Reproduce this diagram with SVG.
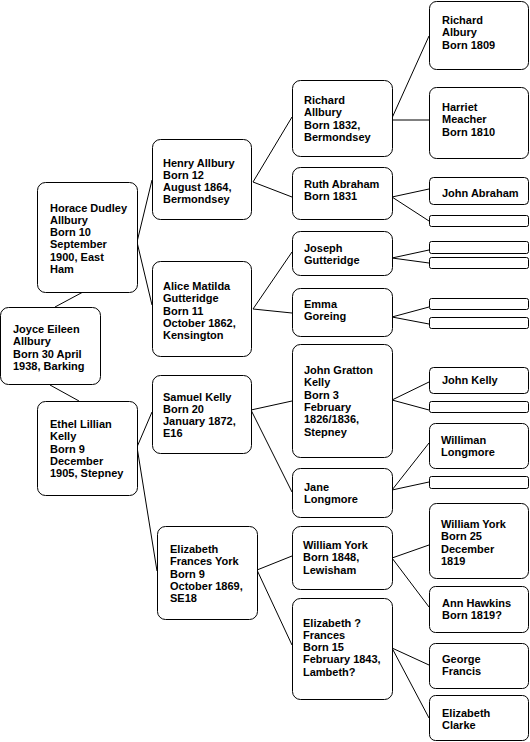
<svg xmlns="http://www.w3.org/2000/svg" width="530" height="742" viewBox="0 0 530 742">
<style>
rect{fill:#fff;stroke:#000;stroke-width:1}
text{font-family:"Liberation Sans",Arial,sans-serif;font-weight:bold;font-size:11px;fill:#000}
#connectors line{stroke:#000;stroke-width:1}
</style>
<rect x="0" y="0" width="530" height="742" style="stroke:none"/>
<g id="connectors">
<line x1="55" y1="307" x2="83" y2="292"/>
<line x1="50" y1="385" x2="79" y2="401"/>
<line x1="137" y1="242" x2="152" y2="180"/>
<line x1="137" y1="242" x2="152" y2="305"/>
<line x1="137" y1="447" x2="152" y2="412"/>
<line x1="137" y1="447" x2="157" y2="571"/>
<line x1="253" y1="182" x2="292" y2="117"/>
<line x1="253" y1="182" x2="292" y2="197"/>
<line x1="253" y1="309" x2="292" y2="252"/>
<line x1="253" y1="309" x2="292" y2="313"/>
<line x1="251" y1="410" x2="292" y2="401"/>
<line x1="251" y1="410" x2="292" y2="492"/>
<line x1="257" y1="570" x2="292" y2="556"/>
<line x1="257" y1="570" x2="292" y2="645"/>
<line x1="392" y1="118" x2="429" y2="36"/>
<line x1="392" y1="120" x2="429" y2="120"/>
<line x1="392" y1="197" x2="429" y2="189"/>
<line x1="392" y1="197" x2="429" y2="221"/>
<line x1="392" y1="258" x2="429" y2="250"/>
<line x1="392" y1="258" x2="429" y2="263"/>
<line x1="392" y1="317" x2="429" y2="307"/>
<line x1="392" y1="317" x2="429" y2="324"/>
<line x1="392" y1="400" x2="429" y2="382"/>
<line x1="392" y1="400" x2="429" y2="410"/>
<line x1="392" y1="490" x2="429" y2="443"/>
<line x1="392" y1="490" x2="429" y2="482"/>
<line x1="392" y1="558" x2="429" y2="545"/>
<line x1="392" y1="558" x2="429" y2="607"/>
<line x1="392" y1="648" x2="429" y2="665"/>
<line x1="392" y1="648" x2="429" y2="718"/>
</g>
<g id="joyce"><rect x="0.5" y="307.5" width="100" height="77" rx="8"/>
<text x="13" y="333">Joyce Eileen</text><text x="13" y="345.3">Allbury</text><text x="13" y="357.6">Born 30 April</text><text x="13" y="370">1938, Barking</text></g>
<g id="horace"><rect x="37.5" y="182.5" width="100" height="110" rx="8"/>
<text x="50" y="211.5">Horace Dudley</text><text x="50" y="223.8">Allbury</text><text x="50" y="236.1">Born 10</text><text x="50" y="248.4">September</text><text x="50" y="260.7">1900, East</text><text x="50" y="273">Ham</text></g>
<g id="ethel"><rect x="37.5" y="401.5" width="100" height="94" rx="8"/>
<text x="50" y="428">Ethel Lillian</text><text x="50" y="440.3">Kelly</text><text x="50" y="452.6">Born 9</text><text x="50" y="464.9">December</text><text x="50" y="477.2">1905, Stepney</text></g>
<g id="henry"><rect x="152.5" y="139.5" width="99" height="80" rx="8"/>
<text x="163" y="166.5">Henry Allbury</text><text x="163" y="178.8">Born 12</text><text x="163" y="191.1">August 1864,</text><text x="163" y="203.4">Bermondsey</text></g>
<g id="alice"><rect x="152.5" y="261.5" width="99" height="95" rx="8"/>
<text x="163" y="290">Alice Matilda</text><text x="163" y="302.3">Gutteridge</text><text x="163" y="314.6">Born 11</text><text x="163" y="326.9">October 1862,</text><text x="163" y="339.2">Kensington</text></g>
<g id="samuel"><rect x="152.5" y="375.5" width="99" height="78" rx="8"/>
<text x="163" y="400.5">Samuel Kelly</text><text x="163" y="412.8">Born 20</text><text x="163" y="425.1">January 1872,</text><text x="163" y="437.4">E16</text></g>
<g id="efy"><rect x="157.5" y="526.5" width="100" height="93" rx="8"/>
<text x="170" y="553">Elizabeth</text><text x="170" y="565.3">Frances York</text><text x="170" y="577.6">Born 9</text><text x="170" y="589.9">October 1869,</text><text x="170" y="602.2">SE18</text></g>
<g id="richard1832"><rect x="292.5" y="80.5" width="100" height="76" rx="8"/>
<text x="304" y="104">Richard</text><text x="304" y="116.3">Allbury</text><text x="304" y="128.6">Born 1832,</text><text x="304" y="140.9">Bermondsey</text></g>
<g id="ruth"><rect x="292.5" y="167.5" width="100" height="52" rx="8"/>
<text x="304" y="188">Ruth Abraham</text><text x="304" y="200.3">Born 1831</text></g>
<g id="joseph"><rect x="292.5" y="231.5" width="100" height="44" rx="8"/>
<text x="304" y="251.5">Joseph</text><text x="304" y="263.8">Gutteridge</text></g>
<g id="emma"><rect x="292.5" y="288.5" width="100" height="48" rx="8"/>
<text x="304" y="308">Emma</text><text x="304" y="320.3">Goreing</text></g>
<g id="jgk"><rect x="292.5" y="344.5" width="100" height="113" rx="8"/>
<text x="304" y="374">John Gratton</text><text x="304" y="386.3">Kelly</text><text x="304" y="398.6">Born 3</text><text x="304" y="410.9">February</text><text x="304" y="423.2">1826/1836,</text><text x="304" y="435.5">Stepney</text></g>
<g id="jane"><rect x="292.5" y="468.5" width="100" height="49" rx="8"/>
<text x="304" y="490.5">Jane</text><text x="304" y="502.8">Longmore</text></g>
<g id="wy1848"><rect x="292.5" y="526.5" width="100" height="63" rx="8"/>
<text x="303" y="549">William York</text><text x="303" y="561.3">Born 1848,</text><text x="303" y="573.6">Lewisham</text></g>
<g id="elizq"><rect x="292.5" y="598.5" width="100" height="101" rx="8"/>
<text x="303" y="626.5">Elizabeth ?</text><text x="303" y="638.8">Frances</text><text x="303" y="651.1">Born 15</text><text x="303" y="663.4">February 1843,</text><text x="303" y="675.7">Lambeth?</text></g>
<g id="richard1809"><rect x="429.5" y="1.5" width="99" height="68" rx="7"/>
<text x="442" y="24">Richard</text><text x="442" y="36.3">Albury</text><text x="442" y="48.6">Born 1809</text></g>
<g id="harriet"><rect x="429.5" y="87.5" width="99" height="71" rx="7"/>
<text x="442" y="111">Harriet</text><text x="442" y="123.3">Meacher</text><text x="442" y="135.6">Born 1810</text></g>
<g id="johnabraham"><rect x="429.5" y="177.5" width="99" height="27" rx="4"/>
<text x="442" y="196.5">John Abraham</text></g>
<g id="empty1"><rect x="429.5" y="215.5" width="99" height="11" rx="2"/></g>
<g id="empty2"><rect x="429.5" y="241.5" width="99" height="12" rx="2"/></g>
<g id="empty3"><rect x="429.5" y="257.5" width="99" height="11" rx="2"/></g>
<g id="empty4"><rect x="429.5" y="298.5" width="99" height="11" rx="2"/></g>
<g id="empty5"><rect x="429.5" y="317.5" width="99" height="11" rx="2"/></g>
<g id="johnkelly"><rect x="429.5" y="367.5" width="99" height="26" rx="4"/>
<text x="442" y="384">John Kelly</text></g>
<g id="empty6"><rect x="429.5" y="401.5" width="99" height="11" rx="2"/></g>
<g id="williman"><rect x="429.5" y="423.5" width="99" height="45" rx="6"/>
<text x="441" y="444">Williman</text><text x="441" y="456.3">Longmore</text></g>
<g id="empty7"><rect x="429.5" y="476.5" width="99" height="12" rx="2"/></g>
<g id="wy1819"><rect x="429.5" y="503.5" width="99" height="75" rx="7"/>
<text x="441" y="528">William York</text><text x="441" y="540.3">Born 25</text><text x="441" y="552.6">December</text><text x="441" y="564.9">1819</text></g>
<g id="ann"><rect x="429.5" y="586.5" width="99" height="46" rx="6"/>
<text x="442" y="606.5">Ann Hawkins</text><text x="442" y="618.8">Born 1819?</text></g>
<g id="george"><rect x="429.5" y="643.5" width="99" height="45" rx="6"/>
<text x="442" y="663">George</text><text x="442" y="675.3">Francis</text></g>
<g id="elizclarke"><rect x="429.5" y="695.5" width="99" height="45" rx="6"/>
<text x="442" y="716.5">Elizabeth</text><text x="442" y="728.8">Clarke</text></g>
</svg>
